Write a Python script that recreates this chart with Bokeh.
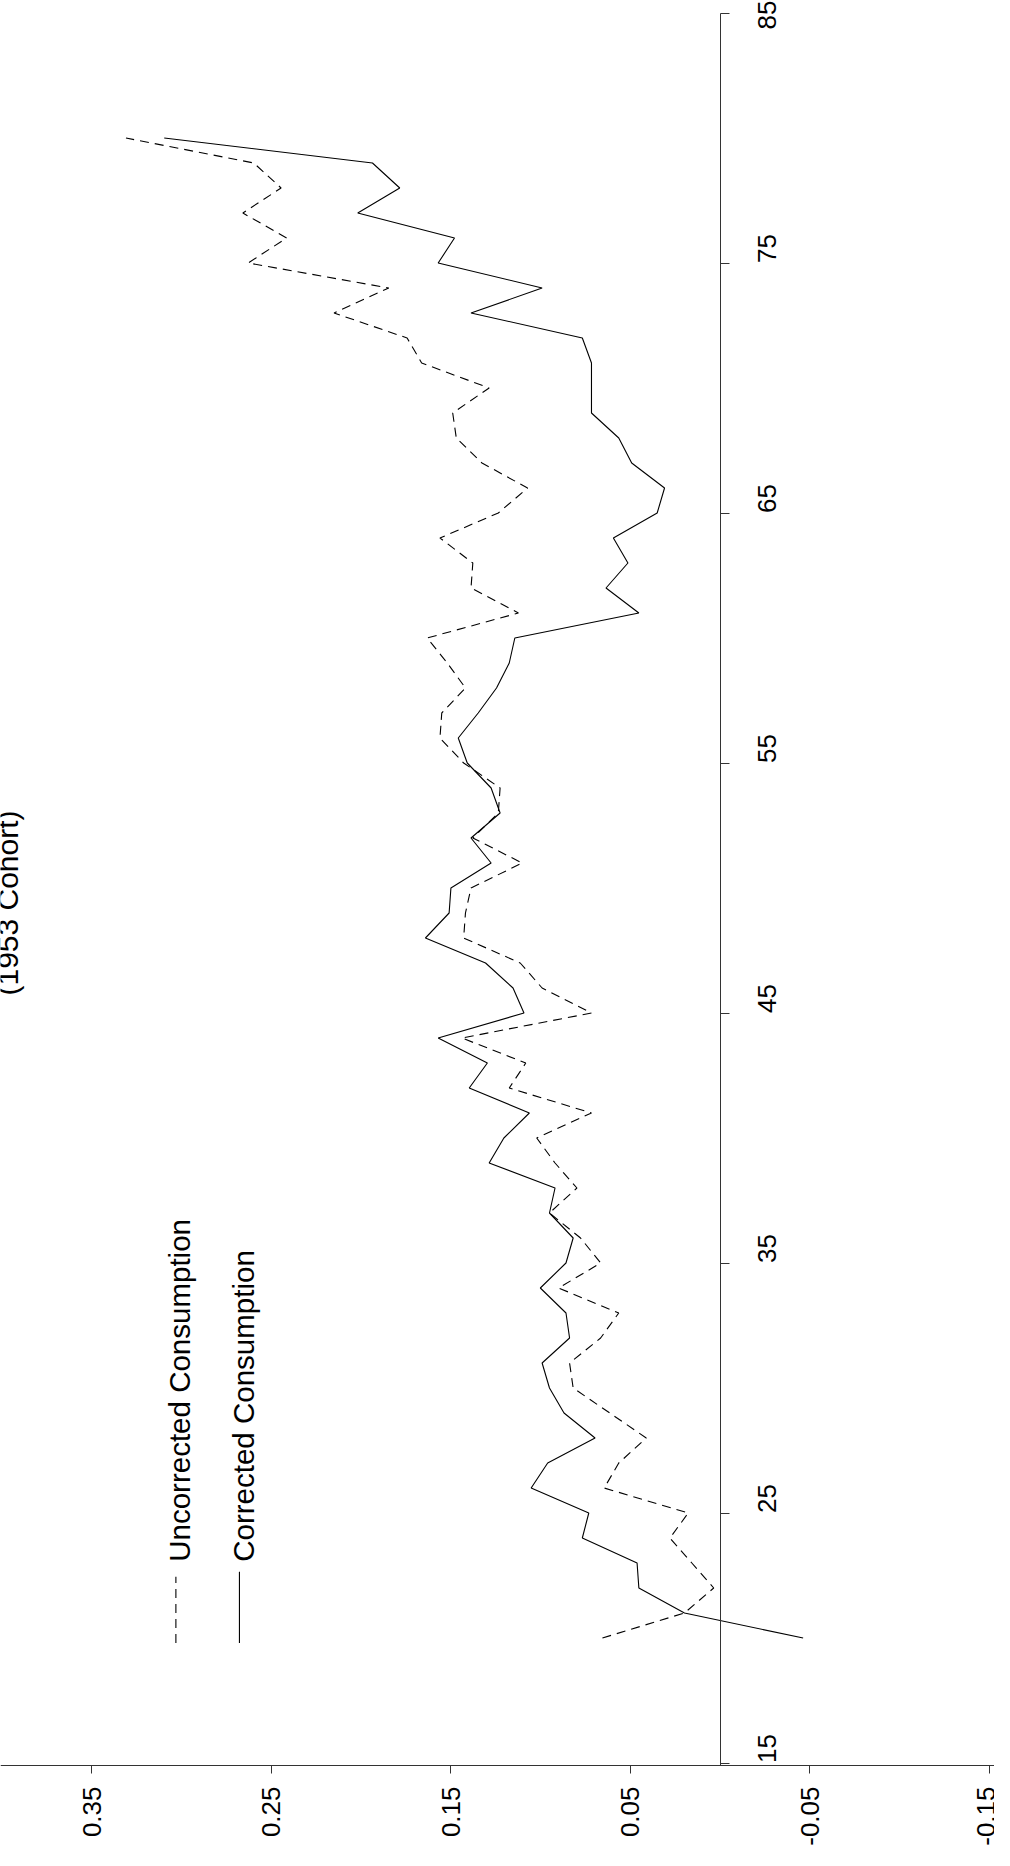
import math
from bokeh.plotting import figure
from bokeh.models import Range1d, LinearAxis, FixedTicker, Label, CustomJSTickFormatter
from bokeh.embed import file_html
from bokeh.resources import INLINE

# ---------------- data ----------------
ages = list(range(20, 81))

uncorrected = [
    0.0655, 0.0198, 0.0035, 0.0157, 0.0279, 0.0177, 0.0645, 0.0564, 0.0411, 0.0614,
    0.0818, 0.0838, 0.0665, 0.0564, 0.0899, 0.0665, 0.0777, 0.0950, 0.0797, 0.0919,
    0.1021, 0.0716, 0.1174, 0.1082, 0.1438, 0.0716, 0.0991, 0.1113, 0.1428, 0.1418,
    0.1387, 0.1102, 0.1377, 0.1235, 0.1225, 0.1428, 0.1560, 0.1550, 0.1418, 0.1519,
    0.1631, 0.1123, 0.1387, 0.1377, 0.1560, 0.1235, 0.1072, 0.1326, 0.1469, 0.1489,
    0.1286, 0.1662, 0.1743, 0.2150, 0.1845, 0.2628, 0.2414, 0.2658, 0.2445, 0.2597,
    0.3309,
]

corrected = [
    -0.0463, 0.0198, 0.0452, 0.0462, 0.0767, 0.0731, 0.1052, 0.0960, 0.0696, 0.0869,
    0.0950, 0.0991, 0.0838, 0.0858, 0.1001, 0.0858, 0.0818, 0.0950, 0.0919, 0.1286,
    0.1204, 0.1062, 0.1397, 0.1296, 0.1570, 0.1092, 0.1153, 0.1306, 0.1641, 0.1509,
    0.1499, 0.1275, 0.1387, 0.1225, 0.1275, 0.1408, 0.1458, 0.1347, 0.1245, 0.1174,
    0.1143, 0.0452, 0.0635, 0.0513, 0.0594, 0.0350, 0.0309, 0.0492, 0.0564, 0.0716,
    0.0716, 0.0716, 0.0767, 0.1387, 0.0991, 0.1570, 0.1479, 0.2018, 0.1784, 0.1936,
    0.3096,
]

age_ticks = [15, 25, 35, 45, 55, 65, 75, 85]
cons_ticks = [-0.15, -0.05, 0.05, 0.15, 0.25, 0.35]

series_names = ["Uncorrected Consumption", "Corrected Consumption"]
title_text = "(1953 Cohort)"

# ---------------- figure (chart drawn rotated: age runs upward) ----------------
FONT = "Liberation Sans"

p = figure(
    width=994, height=1850,
    output_backend="svg", toolbar_location=None,
    x_range=Range1d(0.4008, -0.1529),
    y_range=Range1d(11.5, 85.5),
    x_axis_location=None, y_axis_location=None,
    min_border=0, min_border_left=0, min_border_right=0,
    min_border_top=0, min_border_bottom=0,
    outline_line_color=None,
    background_fill_color="white", border_fill_color="white",
)
p.xgrid.visible = False
p.ygrid.visible = False

# consumption axis (bottom, at the foot of the age axis)
xaxis = LinearAxis(
    fixed_location=14.9,
    ticker=FixedTicker(ticks=cons_ticks),
    formatter=CustomJSTickFormatter(code="return tick.toFixed(2);"),
    major_label_orientation=math.pi / 2,
    major_label_text_font=FONT,
    major_label_text_font_size="26px",
    major_label_text_color="black",
    major_label_standoff=13,
    major_tick_out=8, major_tick_in=0,
    minor_tick_line_color=None,
    axis_line_color="#333333", major_tick_line_color="#333333",
    axis_line_width=1,
)
p.add_layout(xaxis, "below")

# age axis at consumption = 0
yaxis = LinearAxis(
    fixed_location=0.0,
    bounds=(14.9, 85),
    ticker=FixedTicker(ticks=age_ticks),
    formatter=CustomJSTickFormatter(code="return tick.toFixed(0);"),
    major_label_orientation=math.pi / 2,
    major_label_text_font=FONT,
    major_label_text_font_size="26px",
    major_label_text_color="black",
    major_label_standoff=38,
    major_tick_out=9, major_tick_in=0,
    minor_tick_line_color=None,
    axis_line_color="#333333", major_tick_line_color="#333333",
    axis_line_width=1,
)
p.add_layout(yaxis, "right")

# series
p.line(x=uncorrected, y=ages, line_color="black", line_width=1.1, line_dash="9 6")
p.line(x=corrected, y=ages, line_color="black", line_width=1.1)

# legend (rotated)
leg_x = [0.3031, 0.2677]
p.segment(x0=[leg_x[0]], y0=[19.8], x1=[leg_x[0]], y1=[22.45],
          line_color="black", line_width=1.1, line_dash="9 6")
p.segment(x0=[leg_x[1]], y0=[19.8], x1=[leg_x[1]], y1=[22.65],
          line_color="black", line_width=1.1)
for xv, name in zip(leg_x, series_names):
    p.add_layout(Label(x=xv - 0.002, y=23.05, text=name, angle=math.pi / 2,
                       text_align="left", text_baseline="middle",
                       text_font=FONT, text_font_size="29.5px",
                       text_color="black"))

# title (rotated, clipped at the left edge)
p.add_layout(Label(x=0.397, y=49.4, text=title_text, angle=math.pi / 2,
                   text_align="center", text_baseline="middle",
                   text_font=FONT, text_font_size="30px",
                   text_color="black"))

open("out.html", "w").write(file_html(p, INLINE))
